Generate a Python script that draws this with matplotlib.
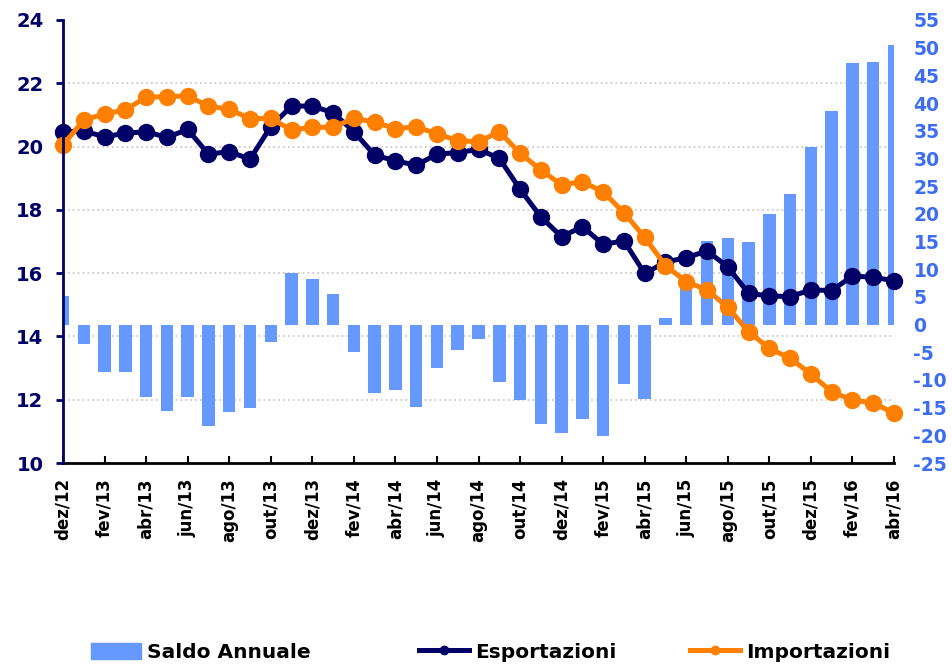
import matplotlib
matplotlib.use("Agg")
import matplotlib.pyplot as plt
import numpy as np
from matplotlib.patches import Patch
from matplotlib.lines import Line2D

plt.rcParams['font.family'] = ['DejaVu Sans']
plt.rcParams['font.weight'] = 'bold'
plt.rcParams['axes.unicode_minus'] = False

months = ["dez/12",
          "jan/13", "fev/13", "mar/13", "abr/13", "mai/13", "jun/13", "jul/13", "ago/13", "set/13", "out/13", "nov/13", "dez/13",
          "jan/14", "fev/14", "mar/14", "abr/14", "mai/14", "jun/14", "jul/14", "ago/14", "set/14", "out/14", "nov/14", "dez/14",
          "jan/15", "fev/15", "mar/15", "abr/15", "mai/15", "jun/15", "jul/15", "ago/15", "set/15", "out/15", "nov/15", "dez/15",
          "jan/16", "fev/16", "mar/16", "abr/16"]

saldo = [5.2, -3.5, -8.6, -8.6, -13.1, -15.6, -13.1, -18.3, -15.8, -15.1, -3.1, 9.3, 8.2,
         5.6, -5.0, -12.4, -11.9, -14.9, -7.9, -4.6, -2.6, -10.3, -13.7, -18.0, -19.5,
         -17.0, -20.2, -10.7, -13.5, 1.1, 8.0, 15.1, 15.6, 14.9, 20.0, 23.6, 32.1,
         38.6, 47.2, 47.4, 50.5]

esportazioni = [20.47, 20.49, 20.31, 20.42, 20.47, 20.29, 20.54, 19.76, 19.84, 19.60, 20.63, 21.28, 21.28,
                21.07, 20.47, 19.73, 19.55, 19.41, 19.76, 19.81, 19.91, 19.63, 18.65, 17.78, 17.15,
                17.47, 16.91, 17.02, 15.99, 16.35, 16.49, 16.70, 16.20, 15.36, 15.28, 15.26, 15.47,
                15.45, 15.91, 15.87, 15.76]

importazioni = [20.05, 20.84, 21.03, 21.16, 21.56, 21.58, 21.60, 21.28, 21.18, 20.88, 20.89, 20.52, 20.61,
                20.61, 20.89, 20.78, 20.56, 20.63, 20.40, 20.19, 20.15, 20.47, 19.79, 19.26, 18.79,
                18.89, 18.57, 17.91, 17.13, 16.24, 15.73, 15.47, 14.92, 14.15, 13.62, 13.31, 12.81,
                12.25, 11.99, 11.90, 11.57]

left_ticks = list(range(10, 25, 2))
right_ticks = list(range(-25, 56, 5))

NAVY = '#000066'
ORANGE = '#FF8000'
BAR = '#6699FF'
RBLUE = '#3D6DF2'

fig = plt.figure(figsize=(9.53, 6.64), dpi=100)
ax = fig.add_axes([0.0661, 0.3027, 0.872, 0.6672])
ax2 = ax.twinx()
ax.set_zorder(2)
ax.patch.set_visible(False)
ax2.set_zorder(1)

x = np.arange(len(months))

# bars on right axis
ax2.bar(x, saldo, width=0.6, color=BAR, zorder=2)
ax2.set_ylim(-25, 55)
ax2.set_yticks(right_ticks)
ax2.tick_params(axis='y', length=0, pad=14, labelsize=13.5, labelcolor=RBLUE)
# gridlines at left-axis ticks, drawn beneath bars
lo, hi = 10, 24
grid_pos = [-25 + (v - lo) * 80 / (hi - lo) for v in left_ticks]
ax2.set_yticks(grid_pos, minor=True)
ax2.tick_params(axis='y', which='minor', length=0)
ax2.grid(True, axis='y', which='minor', color='#c4c4c4', linestyle=(0, (1.2, 2)), linewidth=1.1, zorder=0)
ax2.set_axisbelow(True)
for s in ax2.spines.values():
    s.set_visible(False)

# lines on left axis
ax.plot(x, esportazioni, color=NAVY, lw=3.6, marker='o', ms=11.5, zorder=3, clip_on=False)
ax.plot(x, importazioni, color=ORANGE, lw=3.6, marker='o', ms=11.5, zorder=4, clip_on=False)

ax.set_xlim(0, 40)
ax.set_ylim(10, 24)
ax.set_yticks(left_ticks)
ax.tick_params(axis='y', direction='out', length=5, width=2, color=NAVY,
               labelcolor=NAVY, labelsize=14, pad=9)
ax.set_xticks(x[::2])
ax.set_xticklabels(months[::2], rotation=90, fontsize=12)
ax.tick_params(axis='x', direction='in', length=5, width=1.5, color='black', pad=11)
for sp in ['top', 'right']:
    ax.spines[sp].set_visible(False)
ax.spines['left'].set_color(NAVY)
ax.spines['left'].set_linewidth(2)
ax.spines['bottom'].set_color('black')
ax.spines['bottom'].set_linewidth(2)
ax.spines['left'].set_zorder(5)

handles = [Patch(facecolor=BAR, edgecolor=BAR),
           Line2D([0], [0], color=NAVY, lw=3.6, marker='o', ms=6),
           Line2D([0], [0], color=ORANGE, lw=3.6, marker='o', ms=6)]
labels = ['Saldo Annuale', 'Esportazioni', 'Importazioni']
starts = [91, 419, 690]
for h, lab, sx in zip(handles, labels, starts):
    fig.legend([h], [lab], loc='center left', bbox_to_anchor=(sx / 953, 0.018),
               frameon=False, prop={'weight': 'bold', 'size': 14.5}, handlelength=2.5,
               handleheight=0.85, handletextpad=0.3, borderpad=0, borderaxespad=0)

fig.savefig('out.png', dpi=100)
